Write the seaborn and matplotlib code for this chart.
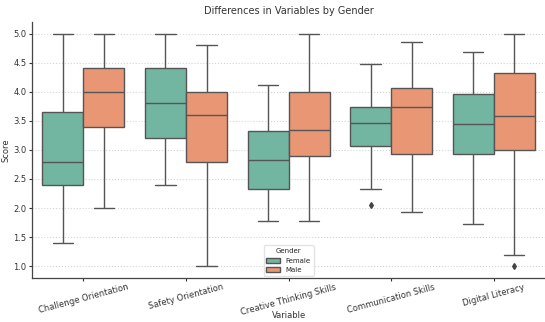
import matplotlib.pyplot as plt
import pandas as pd
import seaborn as sns

# Data (five-number summaries per group)
variables = [
    "Challenge Orientation",
    "Safety Orientation",
    "Creative Thinking Skills",
    "Communication Skills",
    "Digital Literacy"
]

female_low = [1.4, 2.4, 1.78, 2.33, 1.73]
female_q1 = [2.4, 3.2, 2.33, 3.07, 2.93]
female_median = [2.8, 3.8, 2.83, 3.46, 3.44]
female_q3 = [3.65, 4.4, 3.33, 3.73, 3.96]
female_high = [5.0, 5.0, 4.11, 4.47, 4.69]
female_outliers = [[], [], [], [2.06], []]

male_low = [2.0, 1.0, 1.78, 1.93, 1.2]
male_q1 = [3.4, 2.79, 2.89, 2.93, 3.0]
male_median = [4.0, 3.6, 3.34, 3.73, 3.58]
male_q3 = [4.4, 4.0, 4.0, 4.07, 4.32]
male_high = [5.0, 4.8, 5.0, 4.86, 5.0]
male_outliers = [[], [], [], [], [1.0]]


def build_scores(low, q1, med, q3, high, outliers):
    # 9 sorted points so that the quartiles land exactly on q1 / median / q3
    scores = [low, q1, q1, med, q3, q3, high, high]
    if outliers:
        return outliers + scores
    return [low] + scores


rows = []
for i, var in enumerate(variables):
    for gender, stats in [
        ("Female", (female_low, female_q1, female_median, female_q3, female_high, female_outliers)),
        ("Male", (male_low, male_q1, male_median, male_q3, male_high, male_outliers)),
    ]:
        low, q1, med, q3, high, outs = stats
        for s in build_scores(low[i], q1[i], med[i], q3[i], high[i], outs[i]):
            rows.append({"Variable": var, "Gender": gender, "Score": s})

df = pd.DataFrame(rows)

sns.set_style("ticks")
plt.rcParams["font.family"] = ["DejaVu Sans"]

fig, ax = plt.subplots(figsize=(5.45, 3.22), dpi=100)
fig.subplots_adjust(left=0.059, right=1.0, top=0.932, bottom=0.137)

ax.yaxis.grid(True, linestyle=":", color="#d5d5d5", linewidth=0.8)
ax.set_axisbelow(True)

sns.boxplot(
    data=df,
    x="Variable",
    y="Score",
    hue="Gender",
    order=variables,
    palette="Set2",
    saturation=0.75,
    width=0.8,
    linewidth=1.0,
    linecolor="#555555",
    flierprops={"marker": "d", "markersize": 3,
                "markerfacecolor": "#444444", "markeredgecolor": "#444444"},
    ax=ax
)

ax.set_title("Differences in Variables by Gender", fontsize=7, color="#333333")
ax.set_xlabel("Variable", fontsize=6, color="#333333")
ax.xaxis.set_label_coords(0.5, -0.128)
ax.set_ylabel("Score", fontsize=6, color="#333333", labelpad=2)
ax.set_yticks([1.0, 1.5, 2.0, 2.5, 3.0, 3.5, 4.0, 4.5, 5.0])
ax.tick_params(axis="y", labelsize=6, length=2, pad=2, colors="#333333")
ax.tick_params(axis="x", labelsize=6, length=2, pad=1.5, colors="#333333")
plt.setp(ax.get_xticklabels(), rotation=15)

for side in ["top", "right"]:
    ax.spines[side].set_visible(False)
for side in ["left", "bottom"]:
    ax.spines[side].set_color("#444444")
    ax.spines[side].set_linewidth(0.9)

leg = ax.legend(title="Gender", loc="lower center", fontsize=5, title_fontsize=5,
                frameon=True, borderaxespad=0.3)
leg.get_frame().set_edgecolor("#dddddd")

fig.savefig("out.png", dpi=100)
